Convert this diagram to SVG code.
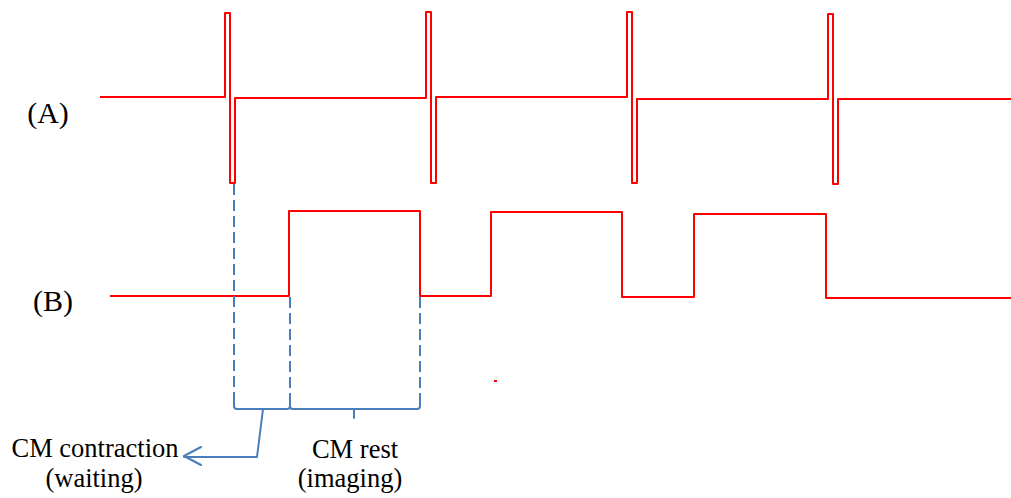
<svg xmlns="http://www.w3.org/2000/svg" width="1011" height="498" viewBox="0 0 1011 498">
  <style>
    .sig { fill: none; stroke: #ff0000; stroke-width: 2; stroke-linejoin: round; }
    .guide { fill: none; stroke: #4a7ebb; stroke-width: 2; stroke-dasharray: 11 5; }
    .brace { fill: none; stroke: #4a7ebb; stroke-width: 2; stroke-linejoin: round; stroke-linecap: round; }
    .lbl { font-family: "Liberation Serif", "Times New Roman", serif; fill: #000; }
  </style>

  <!-- Trace A: baseline with narrow bipolar spikes -->
  <g id="trace-a">
    <path class="sig" d="M100,97 H225 V13 H230 V183 H235 V98 H426 V12 H431 V183 H436 V97 H627 V12 H632 V183 H637 V99 H828 V14 H833 V184 H838 V99 H1011"/>
  </g>

  <!-- Trace B: square wave -->
  <g id="trace-b">
    <path class="sig" d="M110,296 H289 V211 H420 V296 H491 V212 H622 V297 H694 V214 H826 V298 H1011"/>
  </g>

  <!-- stray mark -->
  <rect x="494" y="380" width="3" height="2" fill="#ff0000"/>

  <g id="connectors">
    <!-- dashed timing guides -->
    <line class="guide" x1="234" y1="184" x2="234" y2="404"/>
    <line class="guide" x1="290" y1="297" x2="290" y2="404"/>
    <line class="guide" x1="420" y1="297" x2="420" y2="404"/>

    <!-- brace under the waiting interval -->
    <path class="brace" d="M234,402 V406 Q234,409 237,409 H287 Q290,409 290,406 V402"/>
    <!-- brace under the imaging interval -->
    <path class="brace" d="M290,406 Q290,409 293,409 H417 Q420,409 420,406 V402"/>
    <line class="brace" x1="354" y1="409" x2="354" y2="418"/>

    <!-- pointer to the contraction label -->
    <path class="brace" d="M263,409 L257,457 H184"/>
    <path class="brace" d="M201,447 L184,456 L201,465"/>
  </g>

  <g id="label-a">
    <text class="lbl" x="48" y="123" font-size="30" text-anchor="middle">(A)</text>
  </g>
  <g id="label-b">
    <text class="lbl" x="53" y="311" font-size="30" text-anchor="middle">(B)</text>
  </g>
  <g id="label-contraction">
    <text class="lbl" x="95" y="457" font-size="26.5" text-anchor="middle">CM contraction</text>
    <text class="lbl" x="94" y="487" font-size="26.5" text-anchor="middle">(waiting)</text>
  </g>
  <g id="label-rest">
    <text class="lbl" x="355" y="458" font-size="26.5" text-anchor="middle">CM rest</text>
    <text class="lbl" x="350" y="487" font-size="26.5" text-anchor="middle">(imaging)</text>
  </g>
</svg>
